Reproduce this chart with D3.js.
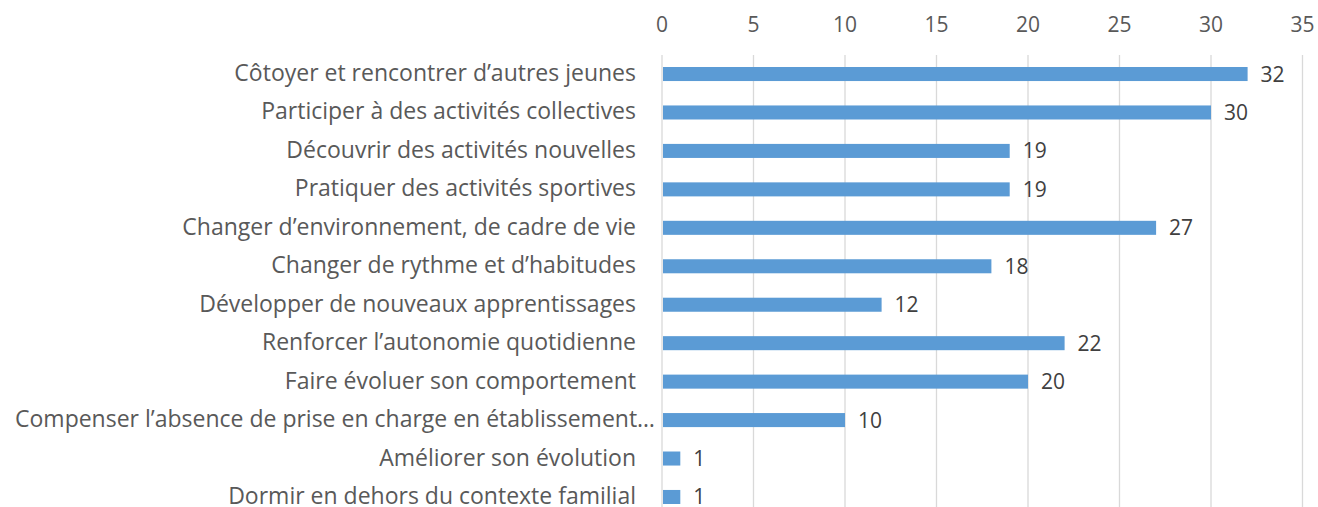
<!DOCTYPE html>
<html>
<head>
<meta charset="utf-8">
<script src="https://cdn.jsdelivr.net/npm/d3@7"></script>
<style>
  body { margin: 0; background: #fff; }
  svg text { font-family: "Open Sans", sans-serif; }
</style>
</head>
<body>
<script>
const categories = [
  'Côtoyer et rencontrer d’autres jeunes',
  'Participer à des activités collectives',
  'Découvrir des activités nouvelles',
  'Pratiquer des activités sportives',
  'Changer d’environnement, de cadre de vie',
  'Changer de rythme et d’habitudes',
  'Développer de nouveaux apprentissages',
  'Renforcer l’autonomie quotidienne',
  'Faire évoluer son comportement',
  'Compenser l’absence de prise en charge en établissement…',
  'Améliorer son évolution',
  'Dormir en dehors du contexte familial'
]
const values = [32, 30, 19, 19, 27, 18, 12, 22, 20, 10, 1, 1]
const ticks = [0, 5, 10, 15, 20, 25, 30, 35]

const W = 1318, H = 507

const svg = d3.select('body').append('svg')
  .attr('width', W)
  .attr('height', H)

const x = d3.scaleLinear().domain([0, 35]).range([662, 1302.5])
const y = d3.scaleBand().domain(categories).range([54.8, 516.2]).paddingInner(0.635).paddingOuter(0.3175)

// gridlines
svg.append('g').selectAll('line')
  .data(ticks)
  .enter().append('line')
  .attr('x1', d => x(d)).attr('x2', d => x(d))
  .attr('y1', 55).attr('y2', H)
  .attr('stroke', '#d9d9d9')
  .attr('stroke-width', 1.3)

// tick labels
svg.append('g').selectAll('text')
  .data(ticks)
  .enter().append('text')
  .attr('x', d => x(d))
  .attr('y', 32)
  .attr('text-anchor', 'middle')
  .attr('fill', '#595959')
  .attr('font-size', 21)
  .text(d => d)

// bars
svg.append('g').selectAll('rect')
  .data(values)
  .enter().append('rect')
  .attr('x', x(0) + 1)
  .attr('y', (d, i) => y(categories[i]))
  .attr('width', d => x(d) - x(0) - 1)
  .attr('height', y.bandwidth())
  .attr('fill', '#5b9bd5')

// value labels
svg.append('g').selectAll('text')
  .data(values)
  .enter().append('text')
  .attr('x', d => x(d) + 13)
  .attr('y', (d, i) => y(categories[i]) + y.bandwidth() / 2 + 7.5)
  .attr('fill', '#404040')
  .attr('font-size', 21)
  .text(d => d)

// category labels
svg.append('g').selectAll('text')
  .data(categories)
  .enter().append('text')
  .attr('x', (d, i) => i == 9 ? 655 : 636)
  .attr('y', d => y(d) + y.bandwidth() / 2 + 7)
  .attr('text-anchor', 'end')
  .attr('fill', '#595959')
  .attr('font-size', 23)
  .text(d => d)
</script>
</body>
</html>
